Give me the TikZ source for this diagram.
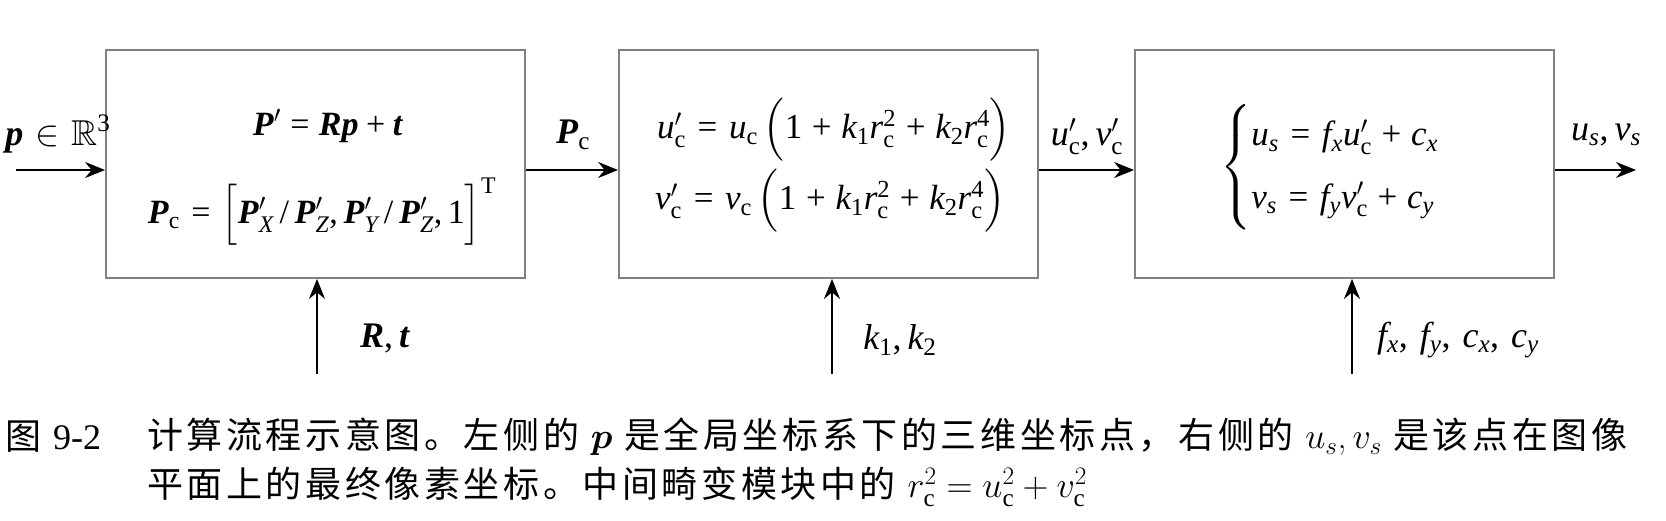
\RequirePackage{fix-cm}
\documentclass[tikz,border=0pt]{standalone}
\usepackage{amsmath}
\usepackage{amssymb}
\usepackage{fontspec}
\setmainfont{Liberation Serif}
\newfontfamily\cjkfont[LetterSpace=10]{Noto Sans CJK SC}
\newfontfamily\timesfam[NFSSFamily=ltimes]{Liberation Serif}
\DeclareMathVersion{times}
\DeclareSymbolFont{tmr}{OT1}{cmr}{m}{n}
\SetSymbolFont{tmr}{times}{TU}{ltimes}{m}{n}
\AtBeginDocument{%
  \SetSymbolFont{letters}{times}{TU}{ltimes}{m}{it}%
  \DeclareMathSymbol{0}{\mathalpha}{tmr}{"30}%
  \DeclareMathSymbol{1}{\mathalpha}{tmr}{"31}%
  \DeclareMathSymbol{2}{\mathalpha}{tmr}{"32}%
  \DeclareMathSymbol{3}{\mathalpha}{tmr}{"33}%
  \DeclareMathSymbol{4}{\mathalpha}{tmr}{"34}%
  \DeclareMathSymbol{+}{\mathbin}{tmr}{"2B}%
  \DeclareMathSymbol{=}{\mathrel}{tmr}{"3D}%
  \DeclareMathSymbol{,}{\mathpunct}{tmr}{"2C}%
  \DeclareMathSymbol{/}{\mathord}{tmr}{"2F}%
}
\usetikzlibrary{arrows.meta,calc}
\newcommand\fsa{\fontsize{34}{40}\selectfont}
\newcommand\fsb{\fontsize{35}{42}\selectfont}
\newcommand\fsl{\fontsize{36}{42}\selectfont}
\newcommand\capsz{\fontsize{36}{44}\selectfont}
\newcommand\rc{\mathrm{c}}
\newcommand\bv[1]{\textbf{\textit{#1}}}
\newcommand\wide{\thickmuskip=6mu plus 2mu\medmuskip=5mu plus 2mu}
\begin{document}
\begin{tikzpicture}[x=1pt,y=-1pt,
  blockbox/.style={draw=black!50, line width=1.8pt, minimum width=419pt, minimum height=228pt, inner sep=0pt},
  arr/.style={line width=1.6pt, -{Stealth[length=20pt,width=16pt]}},
  mtxt/.style={inner sep=0pt},
  mla/.style={mtxt, font=\fsa\mathversion{times}},
  mlaw/.style={mtxt, font=\fsa\mathversion{times}\wide},
  mlb/.style={mtxt, font=\fsb\mathversion{times}\wide},
  mlab/.style={mtxt, font=\fsl\mathversion{times}\wide},
  captxt/.style={font=\capsz\cjkfont, inner sep=0pt, anchor=west}]
\useasboundingbox[fill=white] (0,0) rectangle (1666,520);
% blocks
\node[blockbox] (b1) at (315.5,164) {};
\node[blockbox] (b2) at (828.5,164) {};
\node[blockbox] (b3) at (1344.5,164) {};
% block contents
\node[mla] (e11) at (328,126) {$\bv{P}' = \bv{R}\bv{p}+\bv{t}$};
\node[mlaw] (e12) at (322,212) {$\bv{P}_{\rc} = \Bigl[\bv{P}^{\prime}_{X}\,/\,\bv{P}^{\prime}_{Z},\bv{P}^{\prime}_{Y}\,/\,\bv{P}^{\prime}_{Z},1\Bigr]^{\mathrm{T}}$};
\node[mlb, anchor=west] (e21) at (657,130) {$u_{\rc}^{\prime} = u_{\rc}\,\Bigl(1+k_1 r_{\rc}^2+k_2 r_{\rc}^4\Bigr)$};
\node[mlb, anchor=west] (e22) at (655,201) {$v_{\rc}^{\prime} = v_{\rc}\,\Bigl(1+k_1 r_{\rc}^2+k_2 r_{\rc}^4\Bigr)$};
\node[mlb, anchor=west] (e3) at (1220,167) {$\begin{cases} u_s = f_x u_{\rc}^{\prime} + c_x \\[12pt] v_s = f_y v_{\rc}^{\prime} + c_y \end{cases}$};
% main line
\coordinate (mainy) at (0,170);
\coordinate (pin) at (16,170);
\coordinate (pout) at (1636,170);
\draw[arr] (pin) -- (b1.west |- mainy);
\draw[arr] (b1.east |- mainy) -- (b2.west |- mainy);
\draw[arr] (b2.east |- mainy) -- (b3.west |- mainy);
\draw[arr] (b3.east |- mainy) -- (pout);
% parameter inputs
\coordinate (q1) at (317,374);
\coordinate (q2) at (832,374);
\coordinate (q3) at (1352,374);
\draw[arr] (q1) -- (q1 |- b1.south);
\draw[arr] (q2) -- (q2 |- b2.south);
\draw[arr] (q3) -- (q3 |- b3.south);
% labels
\node[mlab] (lp) at (58,134) {$\bv{p}\in\mathbb{R}^3$};
\node[mlab] (lpc) at (573,135) {$\bv{P}_{\rc}$};
\node[mlab] (luv) at (1087,137) {$u_{\rc}^{\prime},v_{\rc}^{\prime}$};
\node[mlab] (lus) at (1606,135) {$u_s,v_s$};
\node[mlab] (lrt) at (385,338) {$\bv{R},\bv{t}$};
\node[mlab] (lk) at (900,340) {$k_1,k_2$};
\node[mlab] (lf) at (1458,340) {$f_x,\,f_y,\,c_x,\,c_y$};
% caption
\node[captxt] (cfig) at (5,437) {图\hspace{12pt}{\rmfamily 9-2}};
\node[captxt] (cl1) at (147,437) {计算流程示意图。左侧的 $\boldsymbol{p}$ 是全局坐标系下的三维坐标点，右侧的 $u_s,v_s$ 是该点在图像};
\node[captxt] (cl2) at (147,487) {平面上的最终像素坐标。中间畸变模块中的 $r_{\rc}^2=u_{\rc}^2+v_{\rc}^2$};
\end{tikzpicture}
\end{document}
